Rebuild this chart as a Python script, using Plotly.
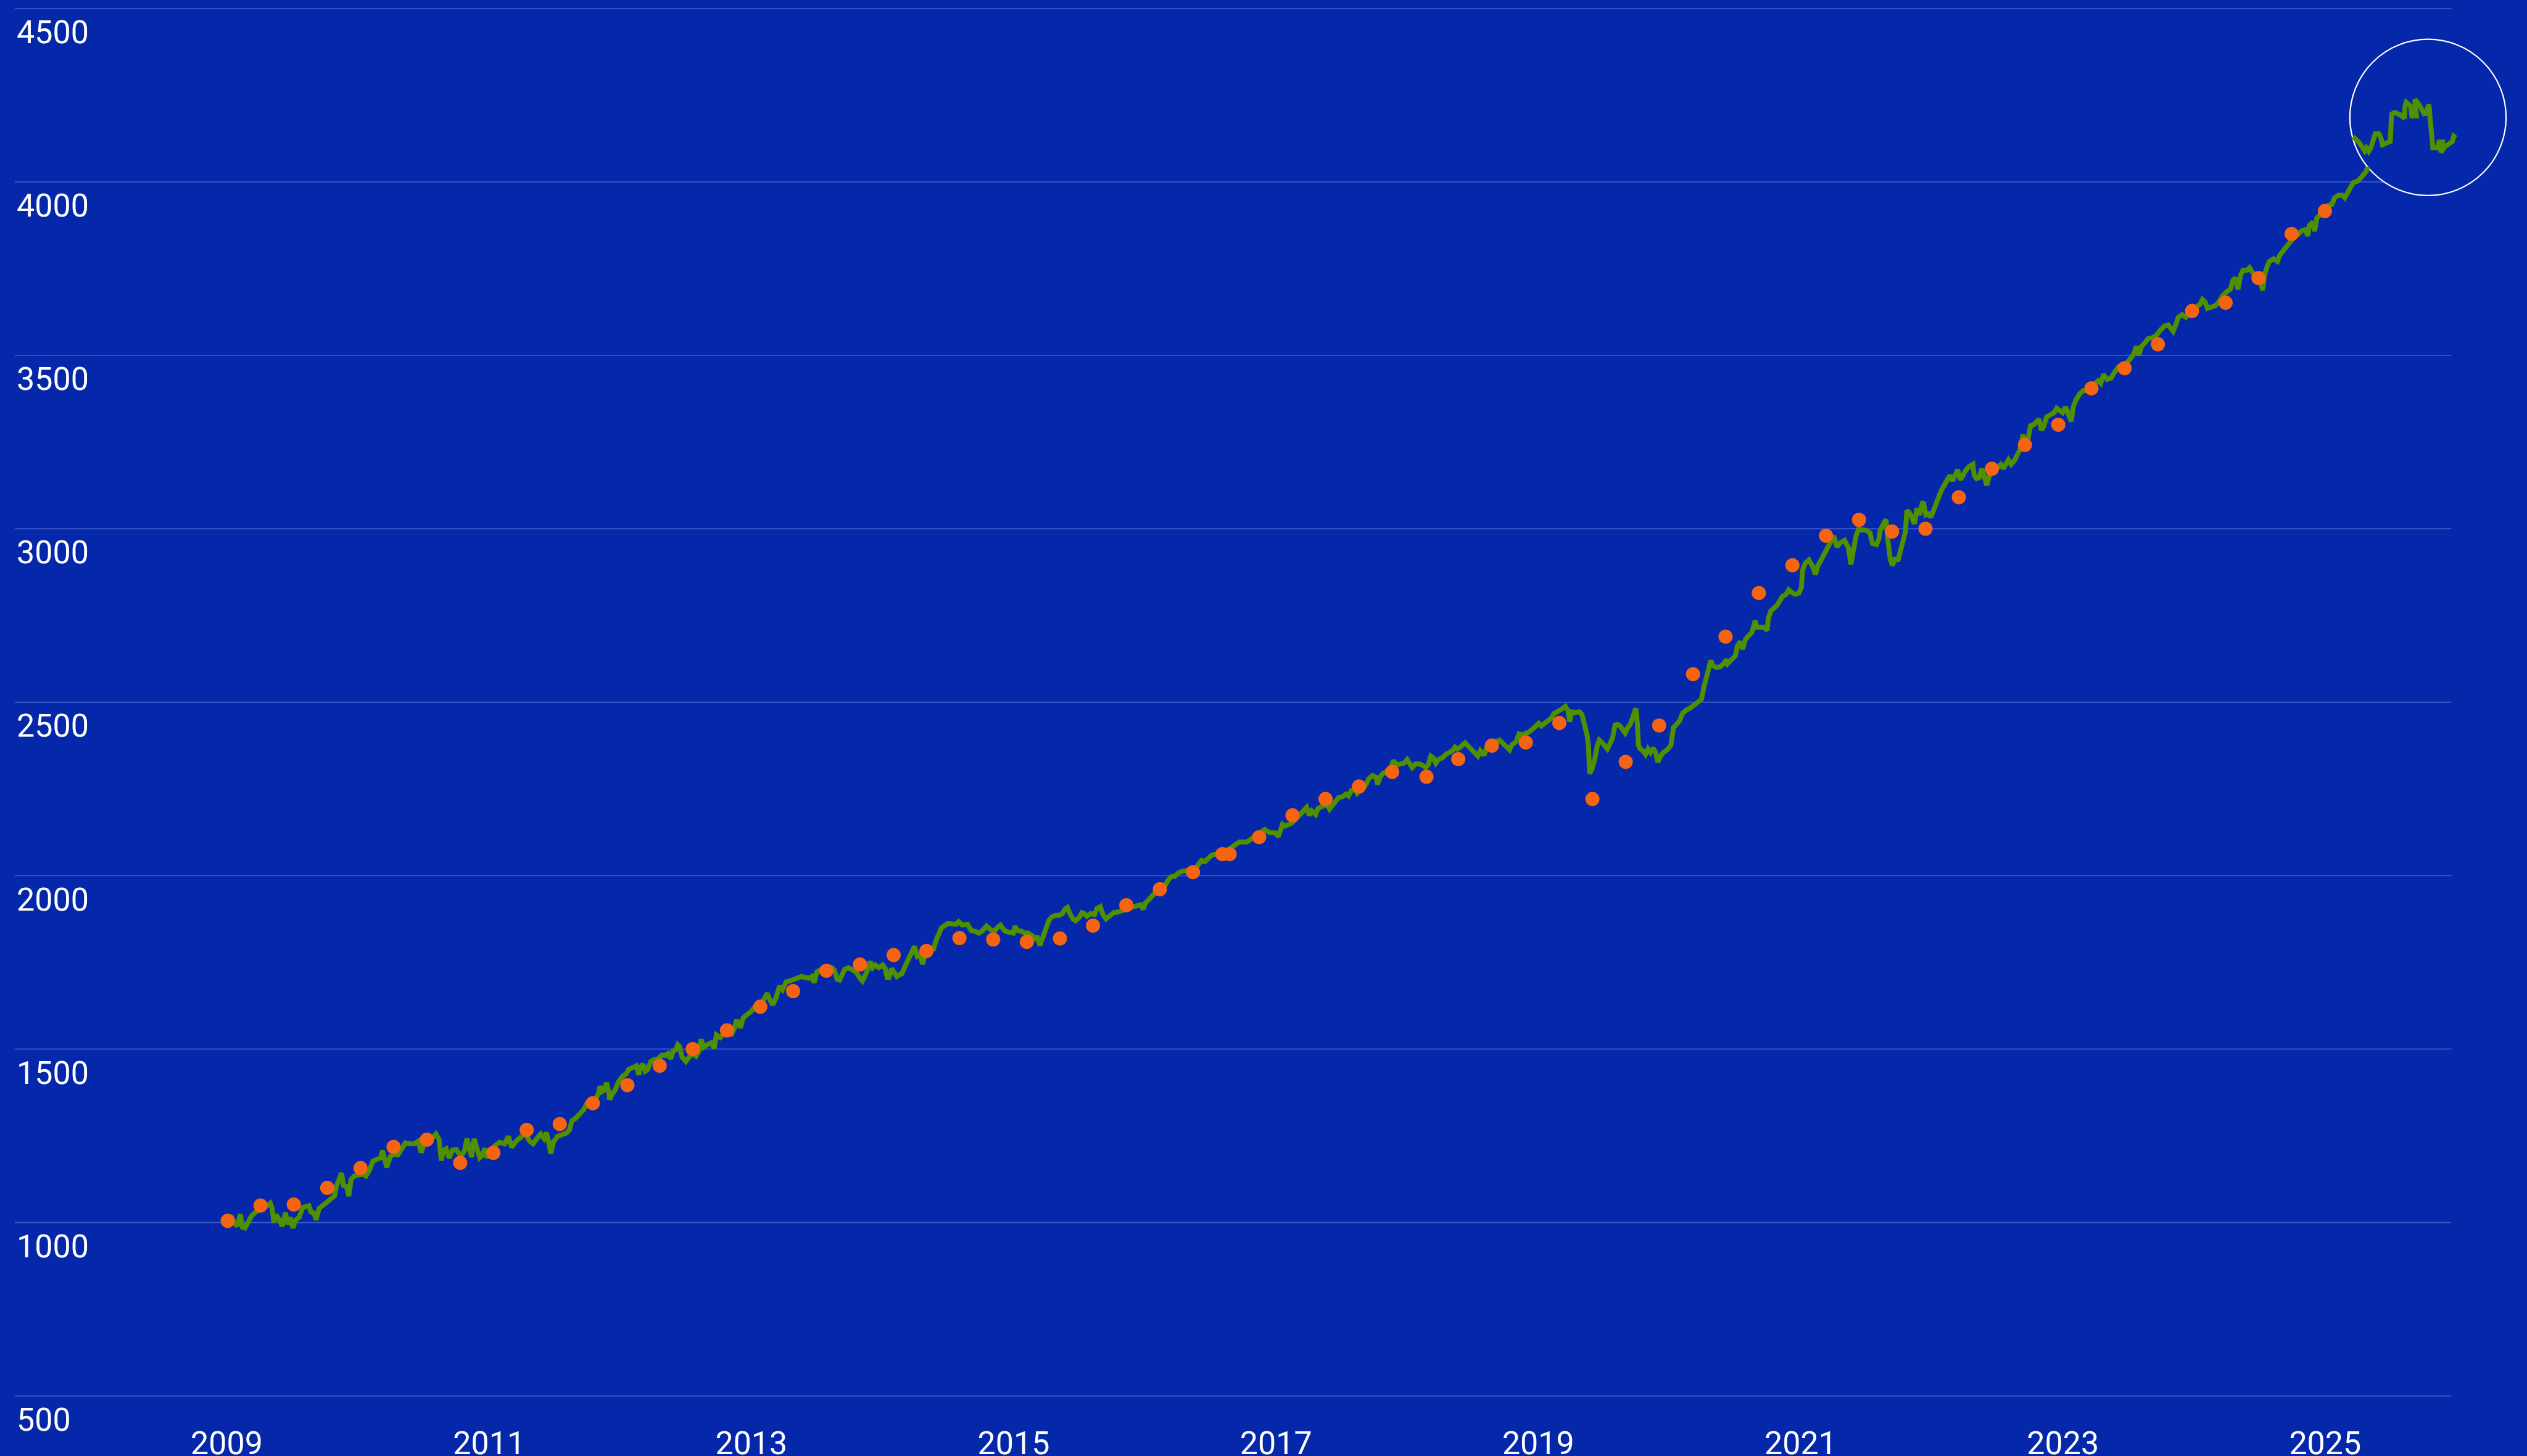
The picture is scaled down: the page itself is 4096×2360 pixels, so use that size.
import plotly.graph_objects as go

# ---------------- data (decimal year, index value) ----------------
line_2009_2011 = [
    [2008.984, 987.0], [2009.011, 1000.3], [2009.030, 1020.2], [2009.055, 999.8], [2009.079, 989.5],
    [2009.104, 1023.7], [2009.119, 987.0], [2009.139, 984.4], [2009.162, 999.8], [2009.191, 1020.2],
    [2009.220, 1030.4], [2009.249, 1035.5], [2009.278, 1040.6], [2009.307, 1048.2], [2009.332, 1055.9],
    [2009.346, 1040.6], [2009.359, 999.8], [2009.375, 1022.7], [2009.398, 1010.0], [2009.423, 989.5],
    [2009.447, 1027.8], [2009.466, 994.6], [2009.485, 1015.1], [2009.503, 984.4], [2009.526, 1007.4],
    [2009.553, 1015.1], [2009.578, 1043.1], [2009.604, 1045.7], [2009.627, 1048.2], [2009.642, 1030.4],
    [2009.666, 1026.8], [2009.681, 1007.4], [2009.704, 1040.6], [2009.733, 1049.3], [2009.762, 1058.5],
    [2009.793, 1066.1], [2009.821, 1076.3], [2009.836, 1104.4], [2009.855, 1119.7], [2009.875, 1142.7],
    [2009.890, 1106.9], [2009.912, 1104.4], [2009.931, 1076.3], [2009.948, 1124.8], [2009.976, 1135.0],
    [2010.010, 1139.1], [2010.038, 1140.1], [2010.061, 1134.0], [2010.088, 1151.4], [2010.115, 1176.9],
    [2010.150, 1182.0], [2010.175, 1187.1], [2010.187, 1207.5], [2010.204, 1179.9], [2010.220, 1159.5],
    [2010.247, 1190.2], [2010.276, 1197.3], [2010.305, 1195.3], [2010.334, 1210.6], [2010.363, 1229.5],
    [2010.398, 1226.9], [2010.431, 1226.9], [2010.460, 1234.6], [2010.483, 1201.4], [2010.502, 1224.4],
    [2010.533, 1229.5], [2010.561, 1241.2], [2010.595, 1255.0], [2010.619, 1239.7], [2010.636, 1178.4],
    [2010.650, 1206.5], [2010.673, 1212.6], [2010.696, 1186.1], [2010.721, 1209.0], [2010.750, 1210.6],
    [2010.774, 1197.3], [2010.793, 1195.3], [2010.812, 1206.5], [2010.832, 1242.2], [2010.851, 1216.7],
    [2010.867, 1188.6], [2010.886, 1241.2], [2010.909, 1211.6], [2010.929, 1187.1], [2010.952, 1195.3],
    [2010.967, 1214.1], [2010.987, 1186.1], [2011.012, 1206.5], [2011.045, 1221.8], [2011.080, 1231.0],
    [2011.119, 1226.9], [2011.148, 1248.3], [2011.173, 1216.7], [2011.206, 1234.6], [2011.239, 1244.8],
    [2011.277, 1257.5], [2011.308, 1234.6], [2011.336, 1226.9], [2011.367, 1243.2], [2011.394, 1255.0],
    [2011.419, 1242.2], [2011.438, 1258.6], [2011.452, 1237.1], [2011.471, 1198.8], [2011.491, 1232.0],
    [2011.522, 1248.3], [2011.560, 1253.4], [2011.593, 1258.6], [2011.613, 1267.7], [2011.632, 1293.3],
    [2011.661, 1300.9], [2011.690, 1311.1], [2011.719, 1323.9], [2011.748, 1344.3], [2011.777, 1343.3],
    [2011.806, 1348.4], [2011.835, 1373.9],
]

line_2012_2014 = [
    [2011.846, 1392.8], [2011.861, 1377.5], [2011.881, 1382.6], [2011.896, 1403.0], [2011.912, 1377.5],
    [2011.919, 1354.5], [2011.939, 1369.8], [2011.962, 1382.6], [2011.987, 1405.6], [2012.016, 1420.9],
    [2012.045, 1428.5], [2012.065, 1441.3], [2012.094, 1446.4], [2012.123, 1451.5], [2012.142, 1426.0],
    [2012.156, 1449.0], [2012.175, 1456.6], [2012.191, 1436.2], [2012.210, 1441.3], [2012.233, 1464.3],
    [2012.259, 1469.4], [2012.288, 1471.9], [2012.317, 1482.1], [2012.342, 1481.1], [2012.365, 1487.2],
    [2012.385, 1471.9], [2012.404, 1494.9], [2012.423, 1497.4], [2012.439, 1512.8], [2012.452, 1507.7],
    [2012.472, 1477.0], [2012.501, 1464.3], [2012.520, 1474.5], [2012.549, 1487.2], [2012.578, 1479.6],
    [2012.598, 1492.3], [2012.617, 1528.1], [2012.636, 1505.1], [2012.665, 1512.8], [2012.694, 1517.9],
    [2012.718, 1502.6], [2012.733, 1540.8], [2012.762, 1533.2], [2012.791, 1543.4], [2012.820, 1545.9],
    [2012.849, 1543.4], [2012.869, 1558.7], [2012.888, 1584.2], [2012.917, 1561.3], [2012.937, 1589.3],
    [2012.966, 1599.5], [2012.995, 1607.2], [2013.024, 1620.0], [2013.063, 1627.6], [2013.092, 1640.4],
    [2013.121, 1660.8], [2013.140, 1642.9], [2013.163, 1627.6], [2013.188, 1648.0], [2013.214, 1681.2],
    [2013.237, 1671.0], [2013.266, 1694.0], [2013.295, 1696.5], [2013.324, 1701.6], [2013.353, 1704.2],
    [2013.382, 1709.3], [2013.411, 1706.7], [2013.440, 1704.2], [2013.460, 1709.3], [2013.479, 1691.4],
    [2013.498, 1722.1], [2013.527, 1729.7], [2013.557, 1734.8], [2013.586, 1737.4], [2013.615, 1734.8],
    [2013.634, 1727.2], [2013.653, 1701.6], [2013.673, 1699.1], [2013.692, 1714.4], [2013.711, 1729.7],
    [2013.741, 1734.8], [2013.770, 1729.7], [2013.799, 1722.1], [2013.828, 1704.2], [2013.847, 1696.5],
    [2013.867, 1711.8], [2013.886, 1727.2], [2013.905, 1752.7], [2013.925, 1734.8], [2013.944, 1742.5],
    [2013.973, 1734.8], [2014.002, 1742.5], [2014.021, 1732.3], [2014.035, 1706.7], [2014.050, 1706.7],
    [2014.070, 1732.3], [2014.089, 1722.1], [2014.109, 1709.3], [2014.128, 1714.4], [2014.147, 1716.9],
    [2014.171, 1737.4], [2014.196, 1757.8], [2014.225, 1775.7], [2014.244, 1796.1], [2014.264, 1768.0],
    [2014.287, 1773.1], [2014.306, 1745.0], [2014.331, 1783.3], [2014.360, 1785.9], [2014.389, 1788.4],
    [2014.409, 1813.9], [2014.450, 1850.0], [2014.500, 1862.0],
]

line_2014_2017 = [
    [2014.561, 1859.9], [2014.580, 1867.5], [2014.609, 1857.3], [2014.648, 1859.9], [2014.677, 1842.0],
    [2014.706, 1839.5], [2014.735, 1834.4], [2014.764, 1842.0], [2014.793, 1854.8], [2014.823, 1844.6],
    [2014.852, 1839.5], [2014.881, 1852.2], [2014.900, 1857.3], [2014.919, 1847.1], [2014.939, 1839.5],
    [2014.968, 1836.9], [2014.997, 1834.4], [2015.010, 1854.8], [2015.030, 1842.0], [2015.061, 1839.5],
    [2015.084, 1834.4], [2015.113, 1834.4], [2015.142, 1826.7], [2015.162, 1813.9], [2015.177, 1826.7],
    [2015.200, 1798.6], [2015.220, 1819.0], [2015.239, 1834.4], [2015.255, 1859.9], [2015.268, 1870.1],
    [2015.288, 1880.3], [2015.317, 1885.4], [2015.346, 1885.4], [2015.371, 1890.5], [2015.390, 1903.3],
    [2015.410, 1908.4], [2015.429, 1890.5], [2015.452, 1875.2], [2015.472, 1870.1], [2015.501, 1880.3],
    [2015.520, 1893.1], [2015.539, 1890.5], [2015.559, 1882.9], [2015.588, 1890.5], [2015.617, 1888.0],
    [2015.636, 1905.8], [2015.661, 1910.9], [2015.681, 1888.0], [2015.704, 1875.2], [2015.733, 1885.4],
    [2015.762, 1893.1], [2015.801, 1895.6], [2015.840, 1900.7], [2015.878, 1908.4], [2015.917, 1910.9],
    [2015.946, 1913.5], [2015.966, 1916.0], [2015.989, 1903.3], [2016.004, 1921.1], [2016.033, 1931.3],
    [2016.062, 1946.7], [2016.092, 1956.9], [2016.130, 1967.1], [2016.159, 1974.7], [2016.179, 1987.5],
    [2016.204, 1997.7], [2016.227, 1997.7], [2016.256, 2007.9], [2016.285, 2013.0], [2016.314, 2013.0],
    [2016.343, 2015.6], [2016.382, 2018.1], [2016.411, 2033.4], [2016.431, 2043.6], [2016.460, 2041.1],
    [2016.489, 2053.9], [2016.508, 2059.0], [2016.537, 2061.5], [2016.576, 2066.6], [2016.615, 2069.2],
    [2016.644, 2076.8], [2016.673, 2084.5], [2016.702, 2094.7], [2016.721, 2097.2], [2016.750, 2097.2],
    [2016.779, 2097.2], [2016.808, 2104.9], [2016.828, 2110.0], [2016.857, 2117.7], [2016.886, 2125.3],
    [2016.915, 2133.0], [2016.944, 2125.3], [2016.973, 2125.3], [2016.998, 2122.8], [2017.018, 2112.6],
    [2017.031, 2130.4], [2017.050, 2148.3], [2017.070, 2143.2], [2017.089, 2145.7], [2017.118, 2150.8],
    [2017.147, 2161.1], [2017.176, 2173.8], [2017.205, 2186.6], [2017.234, 2196.8], [2017.254, 2173.8],
    [2017.273, 2186.6], [2017.302, 2176.4], [2017.322, 2194.2], [2017.351, 2199.3], [2017.390, 2204.4],
    [2017.409, 2191.7], [2017.428, 2201.9], [2017.448, 2212.1], [2017.477, 2224.9], [2017.506, 2227.4],
    [2017.535, 2235.1], [2017.554, 2230.0], [2017.574, 2245.3], [2017.599, 2250.4],
]

line_2017_2020 = [
    [2017.619, 2237.6], [2017.638, 2245.3], [2017.667, 2252.9], [2017.687, 2263.2], [2017.706, 2278.5],
    [2017.735, 2288.7], [2017.764, 2283.6], [2017.774, 2263.2], [2017.793, 2283.6], [2017.813, 2293.8],
    [2017.838, 2298.9], [2017.861, 2304.0], [2017.880, 2314.2], [2017.896, 2332.1], [2017.919, 2319.3],
    [2017.948, 2321.9], [2017.977, 2324.4], [2018.001, 2334.6], [2018.016, 2324.4], [2018.039, 2311.7],
    [2018.064, 2321.9], [2018.094, 2321.9], [2018.123, 2316.8], [2018.142, 2311.7], [2018.161, 2319.3],
    [2018.181, 2344.8], [2018.200, 2339.7], [2018.219, 2324.4], [2018.239, 2334.6], [2018.268, 2339.7],
    [2018.297, 2349.9], [2018.316, 2355.0], [2018.345, 2360.1], [2018.365, 2370.4], [2018.384, 2365.2],
    [2018.413, 2372.9], [2018.442, 2383.1], [2018.462, 2375.5], [2018.491, 2365.2], [2018.520, 2355.0],
    [2018.539, 2344.8], [2018.558, 2360.1], [2018.587, 2347.4], [2018.607, 2370.4], [2018.636, 2378.0],
    [2018.675, 2385.7], [2018.704, 2390.8], [2018.733, 2378.0], [2018.762, 2370.4], [2018.781, 2362.7],
    [2018.801, 2378.0], [2018.830, 2385.7], [2018.853, 2408.6], [2018.878, 2406.1], [2018.907, 2408.6],
    [2018.927, 2413.7], [2018.946, 2418.8], [2018.975, 2431.6], [2019.004, 2439.3], [2019.023, 2431.6],
    [2019.053, 2441.8], [2019.082, 2446.9], [2019.101, 2454.6], [2019.120, 2467.3], [2019.149, 2472.4],
    [2019.178, 2480.1], [2019.207, 2487.8], [2019.227, 2475.0], [2019.240, 2444.4], [2019.256, 2472.4],
    [2019.285, 2469.9], [2019.314, 2472.4], [2019.333, 2464.8], [2019.353, 2436.7], [2019.372, 2406.1],
    [2019.382, 2375.5], [2019.392, 2293.8], [2019.411, 2309.1], [2019.430, 2334.6], [2019.450, 2375.5],
    [2019.465, 2390.8], [2019.488, 2383.1], [2019.508, 2372.9], [2019.527, 2365.2], [2019.547, 2380.6],
    [2019.566, 2395.9], [2019.585, 2434.2], [2019.605, 2436.7], [2019.624, 2431.6], [2019.643, 2424.0],
    [2019.663, 2411.2], [2019.682, 2426.5], [2019.702, 2436.7], [2019.721, 2457.1], [2019.744, 2482.7],
    [2019.756, 2436.7], [2019.764, 2375.5], [2019.779, 2365.2], [2019.798, 2360.1], [2019.818, 2349.9],
    [2019.837, 2365.2], [2019.856, 2355.0], [2019.876, 2367.8], [2019.895, 2355.0], [2019.911, 2327.0],
    [2019.934, 2344.8], [2019.953, 2355.0], [2019.982, 2362.7], [2020.011, 2375.5], [2020.031, 2426.5],
    [2020.050, 2436.7], [2020.079, 2446.9], [2020.099, 2467.3], [2020.128, 2477.5], [2020.157, 2482.7],
    [2020.186, 2490.3], [2020.215, 2500.5], [2020.244, 2508.2], [2020.263, 2543.9], [2020.283, 2579.6],
    [2020.302, 2600.1], [2020.316, 2620.5], [2020.331, 2605.2], [2020.360, 2600.1], [2020.389, 2602.6],
    [2020.418, 2612.8], [2020.434, 2623.0],
]

line_2020_2023 = [
    [2020.444, 2611.4], [2020.473, 2624.1], [2020.503, 2633.6], [2020.518, 2662.2], [2020.541, 2674.9],
    [2020.557, 2652.6], [2020.580, 2681.2], [2020.609, 2693.9], [2020.628, 2700.3], [2020.654, 2735.2],
    [2020.667, 2716.1], [2020.696, 2716.1], [2020.725, 2716.1], [2020.745, 2706.6], [2020.754, 2741.5],
    [2020.774, 2763.7], [2020.793, 2770.1], [2020.822, 2779.6], [2020.842, 2792.3], [2020.861, 2805.0],
    [2020.890, 2811.4], [2020.909, 2824.1], [2020.929, 2817.7], [2020.958, 2811.4], [2020.987, 2814.5],
    [2021.006, 2830.4], [2021.016, 2881.2], [2021.035, 2900.2], [2021.064, 2909.8], [2021.093, 2890.7],
    [2021.113, 2868.5], [2021.132, 2893.9], [2021.152, 2906.6], [2021.181, 2925.6], [2021.200, 2944.7],
    [2021.229, 2957.4], [2021.254, 2979.6], [2021.277, 2947.8], [2021.306, 2960.5], [2021.336, 2966.9],
    [2021.365, 2944.7], [2021.384, 2897.1], [2021.403, 2944.7], [2021.423, 2979.6], [2021.442, 2998.6],
    [2021.471, 2998.6], [2021.500, 2995.5], [2021.529, 2989.1], [2021.549, 2957.4], [2021.578, 2954.2],
    [2021.597, 2970.1], [2021.607, 2995.5], [2021.626, 3011.3], [2021.651, 3027.2], [2021.665, 2970.1],
    [2021.684, 2912.9], [2021.700, 2893.9], [2021.723, 2916.1], [2021.742, 2906.6], [2021.762, 2932.0],
    [2021.781, 2960.5], [2021.800, 2992.3], [2021.810, 3052.6], [2021.830, 3046.2], [2021.849, 3033.5],
    [2021.868, 3014.5], [2021.888, 3058.9], [2021.907, 3039.9], [2021.926, 3071.6], [2021.936, 3078.0],
    [2021.955, 3039.9], [2021.975, 3043.1], [2021.994, 3033.5], [2022.014, 3052.6], [2022.033, 3078.0],
    [2022.052, 3093.9], [2022.072, 3109.7], [2022.091, 3122.4], [2022.110, 3138.3], [2022.139, 3154.2],
    [2022.159, 3138.3], [2022.178, 3151.0], [2022.198, 3170.0], [2022.217, 3141.5], [2022.236, 3151.0],
    [2022.256, 3166.9], [2022.285, 3179.6], [2022.314, 3185.9], [2022.324, 3154.2], [2022.343, 3144.6],
    [2022.362, 3147.8], [2022.382, 3173.2], [2022.401, 3154.2], [2022.420, 3125.6], [2022.440, 3154.2],
    [2022.469, 3163.7], [2022.498, 3173.2], [2022.527, 3185.9], [2022.546, 3173.2], [2022.566, 3185.9],
    [2022.585, 3198.6], [2022.605, 3185.9], [2022.634, 3198.6], [2022.653, 3214.5], [2022.672, 3227.2],
    [2022.696, 3271.6], [2022.711, 3249.4], [2022.734, 3258.9], [2022.754, 3297.0], [2022.779, 3300.2],
    [2022.798, 3306.5], [2022.818, 3316.0], [2022.837, 3284.3], [2022.856, 3297.0], [2022.876, 3322.4],
    [2022.905, 3328.7], [2022.934, 3335.1], [2022.953, 3347.8], [2022.978, 3338.3], [2022.998, 3335.1],
    [2023.021, 3351.0], [2023.040, 3328.7], [2023.064, 3309.7], [2023.079, 3351.0], [2023.098, 3370.0],
    [2023.128, 3389.1], [2023.157, 3398.6], [2023.186, 3398.6], [2023.215, 3408.1], [2023.244, 3420.8],
    [2023.269, 3427.1],
]

line_2023_2025 = [
    [2023.289, 3419.5], [2023.309, 3445.1], [2023.338, 3430.4], [2023.367, 3434.1], [2023.396, 3452.4],
    [2023.425, 3467.1], [2023.454, 3463.4], [2023.483, 3474.4], [2023.512, 3489.0], [2023.541, 3503.7],
    [2023.560, 3525.7], [2023.580, 3500.0], [2023.599, 3525.7], [2023.628, 3536.7], [2023.648, 3547.6],
    [2023.686, 3551.3], [2023.715, 3558.6], [2023.744, 3573.3], [2023.774, 3584.3], [2023.803, 3587.9],
    [2023.822, 3580.6], [2023.841, 3569.6], [2023.861, 3587.9], [2023.880, 3609.9], [2023.909, 3617.2],
    [2023.938, 3609.9], [2023.958, 3620.9], [2023.987, 3631.9], [2024.016, 3639.2], [2024.045, 3646.5],
    [2024.064, 3661.2], [2024.084, 3653.9], [2024.103, 3635.5], [2024.132, 3639.2], [2024.161, 3642.9],
    [2024.190, 3653.9], [2024.219, 3672.2], [2024.248, 3683.2], [2024.277, 3690.5], [2024.297, 3716.1],
    [2024.316, 3723.4], [2024.335, 3690.5], [2024.355, 3730.8], [2024.374, 3745.4], [2024.403, 3745.4],
    [2024.423, 3752.7], [2024.442, 3741.8], [2024.461, 3730.8], [2024.490, 3727.1], [2024.510, 3708.8],
    [2024.523, 3686.8], [2024.539, 3734.4], [2024.558, 3756.4], [2024.577, 3771.1], [2024.607, 3778.4],
    [2024.636, 3771.1], [2024.655, 3789.4], [2024.684, 3804.0], [2024.713, 3815.0], [2024.733, 3829.7],
    [2024.762, 3840.6], [2024.791, 3848.0], [2024.820, 3859.0], [2024.849, 3862.6], [2024.868, 3844.3],
    [2024.878, 3873.6], [2024.907, 3884.6], [2024.920, 3857.9], [2024.936, 3895.6], [2024.965, 3906.6],
    [2024.994, 3917.6], [2025.023, 3932.2], [2025.052, 3935.9], [2025.072, 3954.2], [2025.101, 3961.5],
    [2025.130, 3961.5], [2025.149, 3954.2], [2025.169, 3965.2], [2025.198, 3987.1], [2025.217, 3998.1],
    [2025.246, 4001.8], [2025.275, 4012.8], [2025.294, 4020.1], [2025.314, 4031.1], [2025.323, 4043.5],
]

# path as seen through the magnifier circle
lens_path = [
    [2025.213, 4130.4], [2025.260, 4113.6], [2025.301, 4089.6], [2025.314, 4098.3], [2025.332, 4088.1],
    [2025.351, 4101.8], [2025.382, 4139.1], [2025.409, 4139.1], [2025.426, 4126.3], [2025.437, 4106.9],
    [2025.467, 4112.1], [2025.497, 4117.2], [2025.506, 4195.3], [2025.530, 4200.4], [2025.571, 4193.7],
    [2025.605, 4183.5], [2025.609, 4218.2], [2025.618, 4229.5], [2025.652, 4218.2], [2025.661, 4190.2],
    [2025.696, 4190.2], [2025.683, 4237.6], [2025.715, 4224.4], [2025.760, 4192.7], [2025.791, 4223.3],
    [2025.807, 4162.1], [2025.821, 4098.3], [2025.861, 4098.3], [2025.868, 4115.1], [2025.895, 4115.1],
    [2025.881, 4084.5], [2025.912, 4101.8], [2025.942, 4108.5], [2025.969, 4116.1], [2025.980, 4131.5],
    [2025.996, 4126.3],
]

dot_years = [
    2009.007, 2009.257, 2009.511, 2009.766, 2010.020, 2010.272, 2010.526, 2010.780, 2011.033, 2011.287,
    2011.539, 2011.791, 2012.055, 2012.301, 2012.553, 2012.814, 2013.068, 2013.318, 2013.572, 2013.828,
    2014.085, 2014.335, 2014.587, 2014.844, 2015.100, 2015.353, 2015.605, 2015.859, 2016.115, 2016.367,
    2016.592, 2016.647, 2016.872, 2017.126, 2017.378, 2017.633, 2017.886, 2018.148, 2018.390, 2018.646,
    2018.905, 2019.161, 2019.413, 2019.667, 2019.922, 2020.180, 2020.428, 2020.682, 2020.938, 2021.194,
    2021.446, 2021.698, 2021.953, 2022.207, 2022.459, 2022.711, 2022.965, 2023.218, 2023.471, 2023.725,
    2023.985, 2024.241, 2024.492, 2024.744, 2024.998,
]
dot_values = [
    1005, 1049, 1052, 1100, 1157, 1218, 1239, 1172, 1201, 1267,
    1284, 1344, 1396, 1452, 1500, 1554, 1622, 1667, 1726, 1744,
    1771, 1783, 1820, 1816, 1809, 1819, 1856, 1915, 1961, 2010,
    2062, 2062, 2111, 2174, 2221, 2257, 2299, 2285, 2336, 2375,
    2384, 2440, 2221, 2328, 2433, 2581, 2689, 2815, 2895, 2980,
    3026, 2992, 3000, 3091, 3173, 3242, 3300, 3405, 3463, 3532,
    3628, 3652, 3723, 3850, 3916,
]

y_ticks = [500, 1000, 1500, 2000, 2500, 3000, 3500, 4000, 4500]
x_ticks = [2009, 2011, 2013, 2015, 2017, 2019, 2021, 2023, 2025]
x_tick_labels = [str(t) for t in x_ticks]

lens_center = (2025.784, 4186.1)

# ---------------- styling ----------------
BG = "#0527a9"
GRID = "#3c5ccb"
GREEN = "#4f8f00"
ORANGE = "#f56511"
FONT = "Roboto"
LINE_W = 8

main_line = line_2009_2011 + line_2012_2014 + line_2014_2017 + line_2017_2020 + line_2020_2023 + line_2023_2025

fig = go.Figure()
fig.add_trace(go.Scatter(
    x=[p[0] for p in main_line], y=[p[1] for p in main_line],
    mode="lines", line=dict(color=GREEN, width=LINE_W), hoverinfo="skip", showlegend=False,
))
fig.add_trace(go.Scatter(
    x=dot_years, y=dot_values, mode="markers",
    marker=dict(color=ORANGE, size=23, line=dict(width=0)), showlegend=False,
))
fig.add_trace(go.Scatter(
    x=[p[0] for p in lens_path], y=[p[1] for p in lens_path],
    mode="lines", line=dict(color=GREEN, width=LINE_W), hoverinfo="skip", showlegend=False,
))

shapes = []
for v in y_ticks:
    shapes.append(dict(type="line", xref="paper", yref="y", x0=0, x1=0.9699, y0=v, y1=v,
                       layer="below", line=dict(color=GRID, width=1.7)))
R = 126.6
shapes.append(dict(type="circle", xref="x", yref="y", xsizemode="pixel", ysizemode="pixel",
                   xanchor=lens_center[0], yanchor=lens_center[1], x0=-R, x1=R, y0=-R, y1=R,
                   layer="between", fillcolor=BG, line=dict(color="white", width=2.2)))

fig.update_layout(
    width=4096, height=2360,
    margin=dict(l=24, r=0, t=0, b=80),
    paper_bgcolor=BG, plot_bgcolor=BG,
    font=dict(family=FONT, color="white", size=52),
    shapes=shapes,
    showlegend=False,
)
fig.update_xaxes(
    range=[2007.384, 2026.539], showgrid=False, zeroline=False, showline=False, automargin=False,
    tickmode="array", tickvals=x_ticks, ticktext=x_tick_labels, ticks="",
    tickfont=dict(family=FONT, size=52, color="white"), ticklabelstandoff=24,
)
fig.update_yaxes(
    range=[469.2, 4524.5], showgrid=False, zeroline=False, showline=False, automargin=False,
    tickmode="array", tickvals=y_ticks, ticks="",
    ticklabelposition="inside", ticklabelshift=38, ticklabeloverflow="allow",
    tickfont=dict(family=FONT, size=52, color="white"),
)

fig.write_html(
    "out.html",
    config={"displayModeBar": False},
    post_script="document.body.style.margin='0';document.body.style.overflow='hidden';"
                "document.body.style.background='" + BG + "';",
)
